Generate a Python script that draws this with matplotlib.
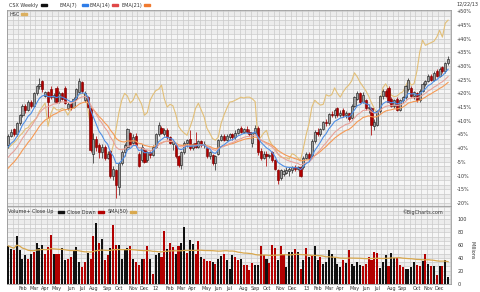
import matplotlib
matplotlib.use("Agg")
import matplotlib.pyplot as plt
from matplotlib.patches import Rectangle
import numpy as np
import pandas as pd

# weekly bars, Jan 2011 - Dec 2013
weeks = pd.date_range("2011-01-03", periods=156, freq="7D")

# CSX weekly candles, % change
opens = [1, 4.5, 7, 5, 9, 12, 15.5, 14, 17, 15.5,
         20, 22.5, 24.5, 19, 20.5, 21.5, 18.5, 22, 17, 20,
         22, 14.5, 16, 15, 18, 20.5, 24, 17.5, 18.5, 14.5,
         -2, 3.5, 1, -1.5, 0.5, -3.5, -1, -10, -8, -14,
         -5.5, -1.5, 0.5, 5.5, 2, 4.5, -2, -4.5, -0.5, -4.5,
         -1.5, -2.5, 0.5, 5, 7.5, 5, 6.5, 4, 1.5, 1,
         -3, -6, -1.5, 2, 3.5, 0, 2, 0.5, 2.5, 1,
         0, -3, -2.5, -5.5, -2, 3, 4.5, 3, 4, 5,
         4, 5.5, 7.5, 6, 7, 6, 2, 5.5, 7.5, -1,
         -3.5, -2, -3, -1.5, -4.5, -8, -11, -9.5, -9, -8.5,
         -8, -7, -7.5, -7, -7, -3.5, -2, -3, 2.5, 6,
         5, 7, 9.5, 9, 12.5, 12, 14.5, 12, 14, 12,
         12.8, 11, 15.5, 18, 20, 17, 17.5, 14.5, 14.5, 8,
         8.5, 13.5, 19, 21, 22, 18, 15.5, 18, 14, 17.5,
         18.5, 21.5, 22, 19, 20, 17.5, 21, 23.5, 24.5, 26.5,
         25, 28, 26.5, 29.5, 28, 31]
closes = [4.5, 6, 5, 9, 12, 15.5, 14, 17, 15.5, 20,
          22.5, 23.5, 21.5, 20.5, 17, 18.5, 19.5, 17, 20, 18,
          16.5, 16, 15, 18, 21.5, 24.5, 21, 20, 15, -0.5,
          3.5, 0.5, -1.5, 0.5, -3.5, -2, -10, -7.5, -13.5, -5.5,
          -1.5, 1, 7, 1.5, 4, 1, -6.5, 0.5, -5, -1.5,
          -2.5, 0.5, 5, 8.5, 5.5, 6.5, 4, 2, 2.5, -3,
          -6, -1.5, 2, 3, 0, 1.5, 0.5, 2.5, 1, 1.5,
          -3, -1.5, -5.5, -3, 3, 4.5, 3, 4.5, 5, 4,
          5.5, 7, 6, 7, 6, 5, 5.5, 7.5, -1.5, -3.5,
          -2, -3, -2.5, -4.5, -7.5, -11.5, -8, -8.5, -8, -7.5,
          -7, -7.5, -7, -10, -3.5, -2, -3.5, 2.5, 6, 5,
          7, 9.5, 9, 12.5, 12, 14, 12, 13, 12, 12.8,
          10.5, 15.5, 18.5, 20.3, 17, 19.5, 14.5, 15, 8.5, 9.5,
          13.5, 19, 21, 19, 17, 15.5, 17.5, 14, 17.5, 18.5,
          22.5, 25, 19, 20.5, 17.5, 21, 23.5, 24.5, 26.5, 25,
          27.5, 26.5, 29, 28, 31, 32.5]
highs = [5, 7, 7.5, 9.5, 12.5, 16, 16, 17.5, 17.5, 20.5,
         23, 25.5, 25, 21, 21, 22.5, 20, 22.5, 21, 20.5,
         22.5, 17, 16.5, 18.5, 22, 25.5, 24.5, 21, 19, 15,
         5.5, 4.5, 2, 1.5, 1, -1, -0.5, -6.5, -7.5, -5,
         -0.5, 2, 7.5, 6, 5, 5.5, -1.5, 1.5, 0, -1,
         -1, 1, 5.5, 9.5, 8, 7.5, 7.5, 4.5, 3, 1.5,
         -2.5, -1, 2.5, 3.5, 6.5, 2, 6, 3, 3, 2.5,
         0.5, -1, -2, -2.5, 3.5, 5, 5, 5, 5.5, 5.5,
         6.5, 7.5, 8, 7.5, 8, 7, 6, 8.5, 8, 0,
         -1, -1, -2, -1, -4, -7.5, -7.5, -7.5, -7, -7,
         -6.5, -6, -6.5, -6.5, -3, -1.5, -1.5, 3.5, 6.5, 7.5,
         7.5, 10, 10.5, 13, 13.5, 14.5, 15, 14, 14.5, 13.5,
         13, 16, 19, 21, 20.5, 20.5, 18, 16, 15, 10.5,
         14, 19.5, 21.5, 21.5, 22.5, 18.5, 18, 18.5, 18, 19,
         23, 25.5, 22.5, 21, 20.5, 21.5, 24, 25, 27, 27,
         28, 29, 29.5, 30, 31.5, 33.5]
lows = [0, 4, 4.5, 4.5, 8.5, 11.5, 13, 13.5, 14.5, 15,
        19.5, 21.5, 20.5, 18.5, 11, 18, 17, 16.5, 16.5, 17.5,
        16, 14, 14, 14.5, 17.5, 20, 20, 17, 14.5, -1.5,
        -5.5, -1, -3.5, -3.5, -4.5, -4, -11, -11.5, -18, -17,
        -6, -3, 0, 1, 1, 0.5, -7, -5, -5.5, -5,
        -3.5, -3, 0, 4.5, 5, 4.5, 3.5, 1.5, -0.5, -3.5,
        -7, -7.5, -2, 0.5, -0.5, -0.5, 0, 0, 0.5, 0,
        -3.5, -4, -6, -8, -2.5, 2.5, 2.5, 2.5, 3.5, 3,
        3.5, 5, 5.5, 5.5, 5.5, 4.5, 0.5, 5, -2.5, -4.5,
        -4, -6.5, -3.5, -5, -8, -13, -11.5, -10, -9.5, -10,
        -9, -8.5, -8, -10.5, -7.5, -4, -4, -3.5, 2, 4.5,
        4.5, 6.5, 8, 8.5, 11.5, 11, 11.5, 11.5, 11.5, 11,
        10, 10.5, 15, 17.5, 16.5, 16.5, 14, 13, 4.7, 6.5,
        8, 13, 18, 18.5, 16.5, 15, 14.5, 13.5, 13.5, 16.5,
        18, 21, 18.5, 18, 17, 17, 20.5, 22.5, 24, 24.5,
        24.5, 26, 26, 27.5, 27.5, 30.5]

# HSC comparison line, % change
hsc = [0, 1, 2, 3, 4.5, 5.5, 7, 7.5, 9, 10,
       11, 13.5, 15, 16.5, 8, 12.5, 15, 14, 13.9, 14.5,
       14, 12, 14, 16.4, 18, 19.5, 20, 19.5, 14.5, 8,
       3.5, 0.5, 1, -0.5, -1, -2, -3, 1, 7, 13,
       17.5, 20, 19, 16.5, 17.5, 20, 18, 16, 12, 13,
       17.5, 19.5, 21, 21.5, 23, 18, 15, 16, 15.5, 12.5,
       8, 6.5, 5.5, 4.7, 7.5, 10.5, 14.5, 16.4, 14, 11.5,
       7.3, 5.5, 3.5, 2.9, 4, 9, 12, 14.5, 16.8, 17,
       17.5, 18, 18.6, 18.3, 18.6, 18.6, 18, 17, 3, 4,
       5.5, 6.5, 3, 1, 0, -2, -3.3, -3.5, -3.5, -4,
       -2, -2.5, -3.5, -4.4, 0, 5, 9, 15, 17.5, 16.5,
       15.7, 16, 19.5, 19, 19.5, 22, 20, 18.6, 20.5, 22,
       23, 24.5, 27.5, 26, 24, 22.5, 21, 19, 16.5, 14.5,
       12, 14.5, 22, 23.5, 21.5, 19.3, 18.8, 19, 20, 20.5,
       22.5, 24.8, 23, 23.5, 28, 35, 39.4, 37.5, 38, 38.5,
       39, 40.5, 43, 40.5, 45.6, 46.7]

# volume, millions; b = close up, r = close down
volume = [58.7, 54.6, 52, 74.4, 53, 39, 45.2, 38, 46.8, 49.4,
          64, 55.6, 60.8, 46.8, 57, 76.5, 46.8, 46.8, 46.8, 55.6,
          36.3, 38, 41.5, 51, 57.2, 33.7, 25.9, 33.7, 48.3, 39,
          74.4, 95.2, 64, 70.2, 36.3, 44.2, 56, 91, 60.8, 60.8,
          39, 54.6, 55.6, 58.7, 39, 33.7, 28.5, 39, 39, 58.2,
          39, 15.5, 45.2, 47, 41.5, 81.7, 53.5, 64, 57.2, 46.8,
          58.7, 63.4, 88.4, 48.3, 67.6, 62.4, 46.8, 66, 41.5, 38,
          34.8, 34.8, 33.7, 31.1, 39, 43.1, 46.8, 36.3, 22.3, 44.2,
          41.5, 36.3, 38, 28.5, 28.5, 20.7, 32.7, 28.5, 29.6, 58.7,
          44.2, 38, 32.7, 60.8, 55.6, 36.3, 58.7, 46.8, 25.9, 49.4,
          49.4, 54.6, 49.4, 22.3, 36.3, 55.6, 41.5, 43.1, 58.7, 37,
          42, 30, 34, 52, 46, 40, 30, 25, 36, 32,
          52, 30, 27, 33, 29, 27, 31, 42, 36, 49,
          48, 24, 34, 45, 28, 47, 40, 40, 29, 25,
          23, 22, 25, 34, 29, 28, 35, 46, 30, 28,
          27, 14, 27, 27, 37, 10]
vol_dir = ("bbrbbbbrbr" "bbbrrrbrrb" "brrbbbrrbr" "rbrbrrbrrb" "bbbrbrrbrr"
           "brbbrrbrrb" "rbbrbbrrbr" "rrbrbbrbbb" "rrbrrrrbbr" "rbrrrbrrbb"
           "brbrbrbrbb" "rbbbbbbbrb" "rbbbbrrrrr" "rbbbrbbrrr" "bbbbrrbrbr"
           "brbrbb")

# where the EMA lines start at the left edge
ema_start = {7: 0.4, 14: -3.3, 21: -7.3}


def ema(values, span, start):
    a = 2.0 / (span + 1)
    out = [start]
    for v in values[1:]:
        out.append(a * v + (1 - a) * out[-1])
    return out


W, H = 480, 292
fs = 3.5
txt = "#333333"


def box(x0, y0, x1, y1):
    return [x0 / W, 1 - y1 / H, (x1 - x0) / W, (y1 - y0) / H]


def px(x, y):
    return x / W, 1 - y / H


fig = plt.figure(figsize=(4.8, 2.92), dpi=100)
ax = fig.add_axes(box(6.7, 10, 451.5, 206))
axv = fig.add_axes(box(6.7, 206, 451.5, 283.5))

x = np.arange(len(closes))
o = np.array(opens)
c = np.array(closes)
xlim = (-0.55, 156.2)


def background(a, lo, hi, step):
    levels = np.arange(np.floor(lo / step) * step, hi + step, step)
    for k in range(len(levels) - 1):
        a.axhspan(levels[k], levels[k + 1], color="#f6f6f6" if k % 2 else "#ececec",
                  lw=0, zorder=0)
    for lv in levels:
        a.axhline(lv, color="#cacaca", lw=0.5, zorder=0.5)
    for xv in np.arange(-0.5, 157, 2):
        a.axvline(xv, color="#cacaca", lw=0.5, zorder=0.5)
    a.set_xlim(*xlim)
    a.set_ylim(lo, hi)
    for s in a.spines.values():
        s.set_color("#9a9a9a")
        s.set_linewidth(0.6)


background(ax, -21.1, 50.4, 5 / 3)
background(axv, 0, 121, 20 / 3)

# HSC comparison
ax.plot(x, hsc, color="#e2bf78", lw=0.8, zorder=2)

# candles
up = c >= o
ax.vlines(x, lows, highs, colors=np.where(up, "#333333", "#b00000"), lw=0.55, zorder=3)
body = np.maximum(np.abs(c - o), 0.25)
ax.bar(x, body, bottom=np.minimum(o, c), width=0.75,
       color=np.where(up, "#a4a4a4", "#b30000"),
       edgecolor=np.where(up, "#222222", "#7a0000"), linewidth=0.45, zorder=4)

# EMAs
ax.plot(x, ema(closes, 21, ema_start[21]), color="#f59a55", lw=0.8, zorder=5)
ax.plot(x, ema(closes, 14, ema_start[14]), color="#e8a29a", lw=0.8, zorder=5)
ax.plot(x, ema(closes, 7, ema_start[7]), color="#4f8fe6", lw=0.8, zorder=5)

yt = np.arange(-20, 51, 5)
ax.set_yticks(yt)
ax.set_yticklabels([("+%d%%" % v) if v >= 0 else ("%d%%" % v) for v in yt])
ax.yaxis.tick_right()
ax.tick_params(axis="y", length=0, pad=3.5, labelsize=fs, labelcolor=txt)
ax.set_xticks([])

# volume
vcol = ["#111111" if d == "b" else "#b30000" for d in vol_dir]
axv.bar(x, volume, width=0.72, color=vcol, zorder=3)
sma = pd.Series(volume).rolling(50, min_periods=1).mean()
axv.plot(x, sma, color="#d9a94f", lw=0.9, zorder=4)
axv.set_yticks(np.arange(0, 101, 20))
axv.yaxis.tick_right()
axv.tick_params(axis="y", length=0, pad=4.5, labelsize=fs, labelcolor=txt)

# month labels at the first week of each month
pos, lab = [], []
for i in range(1, len(weeks)):
    if weeks[i].month != weeks[i - 1].month:
        pos.append(i)
        lab.append(weeks[i].strftime("%y") if weeks[i].month == 1 else weeks[i].strftime("%b"))
axv.set_xticks(pos)
axv.set_xticklabels(lab)
axv.tick_params(axis="x", length=0, pad=1.5, labelsize=fs, labelcolor=txt)


# header legend
def legend_item(x0, y0, label, color, sx):
    fig.text(*px(x0, y0), label, fontsize=fs, color=txt, ha="left", va="center")
    fig.add_artist(Rectangle(px(sx, y0 + 1), 6 / W, 2 / H, color=color,
                             transform=fig.transFigure))


legend_item(9, 5, "CSX Weekly", "#111111", 41)
legend_item(60, 5, "EMA(7)", "#2f7de8", 82)
legend_item(90, 5, "EMA(14)", "#e04848", 112)
legend_item(122, 5, "EMA(21)", "#f07a30", 144)
legend_item(9, 14, "HSC", "#dcb060", 21)
legend_item(8, 212, "Volume+ Close Up", "#111111", 58)
legend_item(67, 212, "Close Down", "#b30000", 98)
legend_item(108, 212, "SMA(50)", "#d9a94f", 130)
fig.text(*px(443, 212), "\u00a9BigCharts.com", fontsize=fs, color=txt, ha="right", va="center")
fig.text(*px(478, 4.5), "12/22/13", fontsize=fs, color=txt, ha="right", va="center")
fig.text(*px(472, 250), "Millions", fontsize=fs, color=txt, rotation=270,
         ha="center", va="center")

fig.savefig("out.png", dpi=100)
